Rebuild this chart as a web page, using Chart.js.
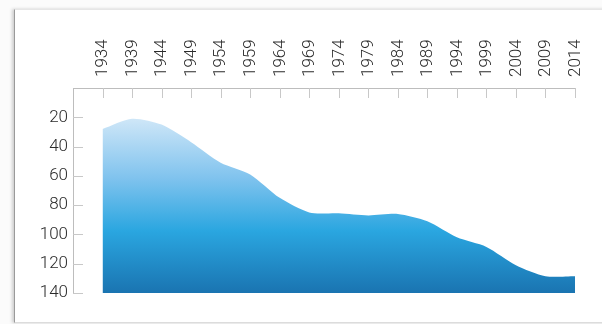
<!DOCTYPE html>
<html>
<head>
<meta charset="utf-8">
<script src="https://cdn.jsdelivr.net/npm/chart.js@4/dist/chart.umd.min.js"></script>
<style>
  html, body { margin: 0; padding: 0; background: #ffffff; }
  #wrap { position: relative; width: 602px; height: 324px; overflow: hidden; background: #fbfbfb; }
  #frame { position: absolute; left: 14px; top: 9px; width: 640px; height: 312px; background: #ffffff;
           border-left: 1px solid #9a9a9a; border-top: 1px solid #e6e6e6; border-bottom: 1px solid #dcdcdc;
           box-shadow: -2px 0 3px rgba(0,0,0,0.18); }
  #c { position: absolute; left: 0; top: 0; }
</style>
</head>
<body>
<div id="wrap">
  <div id="frame"></div>
  <canvas id="c" width="602" height="324"></canvas>
</div>
<script>
const years = [1934, 1939, 1944, 1949, 1954, 1959, 1964, 1969, 1974, 1979, 1984, 1989, 1994, 1999, 2004, 2009, 2014];
const values = [28, 21, 25, 37, 51, 59, 75, 85, 85.5, 87, 86, 91, 102, 108.5, 121, 128.5, 128.5];
const yTicks = [20, 40, 60, 80, 100, 120, 140];
const xMin = 1929, xMax = 2014;
const yMin = 0, yMax = 140;

const points = years.map((y, i) => ({ x: y, y: values[i] }));

const innerTicks = {
  id: 'innerTicks',
  afterDraw(chart) {
    const ctx = chart.ctx;
    const xs = chart.scales.x, ys = chart.scales.y;
    ctx.save();
    ctx.lineWidth = 1;
    ctx.strokeStyle = '#c8c8c8';
    xs.ticks.forEach(t => {
      const px = Math.round(xs.getPixelForValue(t.value)) + 0.5;
      ctx.beginPath();
      ctx.moveTo(px, xs.bottom);
      ctx.lineTo(px, xs.bottom + 10);
      ctx.stroke();
    });
    ys.ticks.forEach(t => {
      const py = Math.round(ys.getPixelForValue(t.value)) + 0.5;
      ctx.beginPath();
      ctx.moveTo(ys.right, py);
      ctx.lineTo(ys.right + 10, py);
      ctx.stroke();
    });
    ctx.restore();
  }
};

const font = { family: 'Roboto', size: 17, weight: '300' };

new Chart(document.getElementById('c'), {
  type: 'line',
  data: {
    datasets: [{
      data: points,
      fill: { value: yMax },
      borderWidth: 0,
      borderColor: 'rgba(0,0,0,0)',
      pointRadius: 0,
      tension: 0.25,
      backgroundColor(context) {
        const ca = context.chart.chartArea;
        if (!ca) return '#2aa6e0';
        const g = context.chart.ctx.createLinearGradient(0, ca.top + 28, 0, ca.bottom);
        g.addColorStop(0, '#d2e8f8');
        g.addColorStop(0.35, '#80c3ee');
        g.addColorStop(0.65, '#2aa6e0');
        g.addColorStop(1, '#1a74b1');
        return g;
      }
    }]
  },
  options: {
    responsive: false,
    animation: false,
    devicePixelRatio: 1,
    layout: { padding: { top: 30, left: 20, right: 27, bottom: 31 } },
    plugins: { legend: { display: false }, tooltip: { enabled: false } },
    scales: {
      x: {
        type: 'linear',
        position: 'top',
        min: xMin,
        max: xMax,
        afterBuildTicks(s) { s.ticks = years.map(v => ({ value: v })); },
        afterFit(s) { s.height = 58; },
        ticks: {
          autoSkip: false,
          minRotation: 90,
          maxRotation: 90,
          padding: 11,
          labelOffset: 21,
          color: '#2a2a2a',
          font: font,
          callback: v => String(v)
        },
        grid: { display: false, drawTicks: false },
        border: { display: true, color: '#bdbdbd', width: 1 }
      },
      y: {
        reverse: true,
        min: yMin,
        max: yMax,
        afterBuildTicks(s) { s.ticks = yTicks.map(v => ({ value: v })); },
        afterFit(s) { s.width = 53; },
        ticks: {
          padding: 5,
          color: '#2a2a2a',
          font: font
        },
        grid: { display: false, drawTicks: false },
        border: { display: true, color: '#bdbdbd', width: 1 }
      }
    }
  },
  plugins: [innerTicks]
});
</script>
</body>
</html>
